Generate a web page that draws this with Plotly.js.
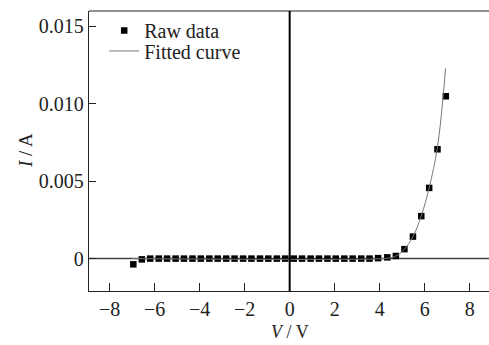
<!DOCTYPE html>
<html>
<head>
<meta charset="utf-8">
<script src="https://cdn.plot.ly/plotly-3.0.1.min.js"></script>
<style>html,body{margin:0;padding:0;overflow:hidden;background:#fff}</style>
</head>
<body>
<div id="chart" style="width:489px;height:345px"></div>
<script>
// Raw data (V, I)
var rawV = [-6.95,-6.57,-6.20,-5.82,-5.45,-5.07,-4.70,-4.32,-3.95,-3.57,-3.20,-2.82,-2.45,-2.07,-1.70,-1.32,-0.95,-0.57,-0.20,0.18,0.55,0.93,1.30,1.68,2.05,2.43,2.80,3.18,3.55,3.93,4.34,4.72,5.10,5.48,5.85,6.20,6.57,6.94];
var rawI = [-0.00037,-0.00005,0,0,0,0,0,0,0,0,0,0,0,0,0,0,0,0,0,0,0,0,0,0,0,0,0,0,0,0.00003,0.00008,0.00017,0.00061,0.00142,0.00274,0.00456,0.00705,0.01047];
// Fitted curve
var fitV = [-7.0,4.2,4.5,4.8,5.1,5.48,5.85,6.2,6.57,6.93];
var fitI = [0,0,0.00006,0.00022,0.00060,0.00142,0.00275,0.00457,0.00720,0.01227];
// Tick labels
var yTickVals = [0,0.005,0.010,0.015];
var yTickText = ["0","0.005","0.010","0.015"];
var xTickVals = [-8,-6,-4,-2,0,2,4,6,8];

var FAM = '"Liberation Serif", "Times New Roman", serif';
var font = {family:FAM, size:20, color:"#222"};

var traces = [
  {x:rawV, y:rawI, type:"scatter", mode:"markers", name:"Raw data",
   marker:{symbol:"square", size:6.5, color:"#000"}, legend:"legend", cliponaxis:false},
  {x:fitV, y:fitI, type:"scatter", mode:"lines", name:"Fitted curve",
   line:{color:"#777", width:1, shape:"spline"}, legend:"legend2"}
];

var layout = {
  width:489, height:345,
  margin:{l:89, r:0, t:11, b:54},
  paper_bgcolor:"#fff", plot_bgcolor:"#fff",
  font:font,
  showlegend:true,
  xaxis:{range:[-8.92,8.86], tickvals:xTickVals, ticks:"inside", ticklen:8, tickwidth:1, tickcolor:"#222",
         showline:true, linecolor:"#222", linewidth:1.2, showgrid:false, zeroline:false, mirror:false,
         tickfont:font, fixedrange:true},
  yaxis:{range:[-0.00209,0.01597], tickvals:yTickVals, ticktext:yTickText, ticks:"inside", ticklen:7, tickwidth:1, tickcolor:"#222",
         showline:true, linecolor:"#222", linewidth:1.2, showgrid:false, zeroline:false, mirror:false,
         tickfont:font, fixedrange:true},
  legend:{x:0.038, y:1.0, xanchor:"left", yanchor:"top", bgcolor:"rgba(0,0,0,0)", borderwidth:0,
          font:{family:FAM, size:20, color:"#222"}},
  legend2:{x:0.038, y:0.927, xanchor:"left", yanchor:"top", bgcolor:"rgba(0,0,0,0)", borderwidth:0,
          font:{family:FAM, size:20, color:"#222"}},
  shapes:[
    {type:"line", xref:"paper", yref:"paper", x0:0, x1:1, y0:1, y1:1, line:{color:"#222", width:1.2}},
    {type:"line", xref:"x", yref:"paper", x0:0, x1:0, y0:0, y1:1, line:{color:"#000", width:2}},
    {type:"line", xref:"paper", yref:"y", x0:0, x1:1, y0:0, y1:0, line:{color:"#444", width:1.5}, layer:"below"}
  ],
  annotations:[
    {text:"<i>I</i> / A", xref:"paper", yref:"paper", x:-0.16, y:0.5, xanchor:"center", yanchor:"middle",
     textangle:-90, showarrow:false, font:{family:FAM, size:19, color:"#222"}},
    {text:"<i>V</i> / V", xref:"x", yref:"paper", x:0, y:-0.148, xanchor:"center", yanchor:"middle",
     showarrow:false, font:{family:FAM, size:18, color:"#222"}}
  ]
};

Plotly.newPlot("chart", traces, layout, {displayModeBar:false, staticPlot:true});
</script>
</body>
</html>
